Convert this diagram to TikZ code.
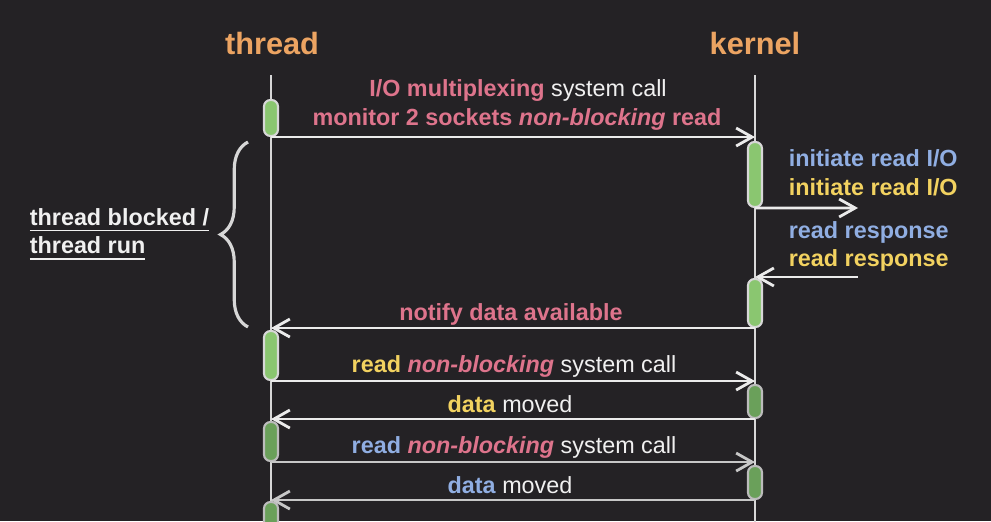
\documentclass[tikz,border=0pt]{standalone}
\usepackage{fontspec}
\setmainfont{Liberation Sans}
\usetikzlibrary{arrows.meta, positioning, decorations.pathreplacing}

\definecolor{bgc}{RGB}{36,34,37}
\definecolor{lifec}{RGB}{215,215,215}
\definecolor{titlec}{RGB}{236,164,98}
\definecolor{pinkc}{RGB}{222,116,140}
\definecolor{bluec}{RGB}{144,174,226}
\definecolor{yellowc}{RGB}{242,210,96}
\definecolor{greena}{RGB}{138,198,112}
\definecolor{greenb}{RGB}{106,160,90}

\newcommand{\pk}[1]{\textcolor{pinkc}{\textbf{#1}}}
\newcommand{\pkit}[1]{\textcolor{pinkc}{\textbf{\textit{#1}}}}
\newcommand{\yl}[1]{\textcolor{yellowc}{\textbf{#1}}}
\newcommand{\bl}[1]{\textcolor{bluec}{\textbf{#1}}}
\newcommand{\undl}[1]{\setbox0=\hbox{#1}\makebox[0pt][l]{\rule[-3.5pt]{\wd0}{1.1pt}}\box0}

\tikzset{
  act/.style={draw=lifec, line width=1.2pt, fill=greena, rounded corners=0.13cm,
    minimum width=0.28cm, inner sep=0pt},
  actdim/.style={act, fill=greenb, draw=lifec!85!bgc},
  life/.style={draw=lifec, line width=1.5pt},
  msg/.style={draw=white!92!black, line width=1.6pt,
    -{Straight Barb[length=0.32cm, width=0.36cm]}},
  msgdim/.style={msg, draw=white!78!black},
  lbl/.style={font=\fontsize{13.3}{15}\selectfont, text=white!94!black, inner sep=2pt},
  ttl/.style={font=\fontsize{17.5}{20}\selectfont\bfseries, text=titlec},
}

\begin{document}
\begin{tikzpicture}[x=0.02cm, y=-0.02cm]
\fill[bgc] (0,0) rectangle (991,521);
\useasboundingbox (0,0) rectangle (991,521);

% titles and lifelines
\node[ttl] (thread) at (272,44) {thread};
\node[ttl] (kernel) at (755,44) {kernel};
\coordinate (tt) at (271,75);
\coordinate (tend) at (271,530);
\coordinate (kt) at (755,75);
\coordinate (kend) at (755,530);
\draw[life] (tt) -- (tend);
\draw[life] (kt) -- (kend);

% activations
\node[act, minimum height=0.72cm] (ta) at (271,118) {};
\node[act, minimum height=0.98cm] (tb) at (271,355.5) {};
\node[actdim, minimum height=0.78cm] (tc) at (271,441.5) {};
\node[actdim, minimum height=0.56cm] (td) at (271,516) {};
\node[act, minimum height=1.30cm] (ka) at (755,174.5) {};
\node[act, minimum height=0.96cm] (kb) at (755,303) {};
\node[actdim, minimum height=0.66cm] (kc) at (755,401.5) {};
\node[actdim, minimum height=0.66cm] (kd) at (755,482.5) {};

% messages
\coordinate (out) at (858,208);
\coordinate (in) at (858,277);
\draw[msg] (ta.south) -- (ta.south -| kt);
\draw[msg] (ka.south) -- (out);
\draw[msg] (in) -- (in -| kt);
\draw[msg] (kb.south) -- (kb.south -| tt);
\draw[msg] (tb.south) -- (tb.south -| kt);
\draw[msg] (kc.south) -- (kc.south -| tt);
\draw[msgdim] (tc.south) -- (tc.south -| kt);
\draw[msgdim] (kd.south) -- (kd.south -| tt);

% labels
\node[lbl] (l1) at (518,91) {\pk{I/O multiplexing} system call};
\node[lbl] (l2) at (517,119) {\pk{monitor 2 sockets \textit{non-blocking} read}};
\node[lbl, anchor=west] (r1) at (785,158) {\bl{initiate read I/O}};
\node[lbl, anchor=west] (r2) at (785,187) {\yl{initiate read I/O}};
\node[lbl, anchor=west] (r3) at (785,232) {\bl{read response}};
\node[lbl, anchor=west] (r4) at (785,260) {\yl{read response}};
\node[lbl] (l3) at (511,314) {\pk{notify data available}};
\node[lbl] (l4) at (514,366) {\yl{read} \pkit{non-blocking} system call};
\node[lbl] (l5) at (510,404) {\yl{data} moved};
\node[lbl] (l6) at (514,447) {\bl{read} \pkit{non-blocking} system call};
\node[lbl] (l7) at (510,485) {\bl{data} moved};

% brace
\coordinate (br1) at (248,327);
\coordinate (br2) at (248,142);
\draw[life, line width=1.8pt, decorate, decoration={brace, amplitude=0.55cm}] (br1) -- (br2);
\node[lbl, anchor=west, align=left, font=\fontsize{13.3}{16}\selectfont\bfseries]
  (blk) at (26,234) {\undl{thread blocked /}\\\undl{thread run}};
\end{tikzpicture}
\end{document}
